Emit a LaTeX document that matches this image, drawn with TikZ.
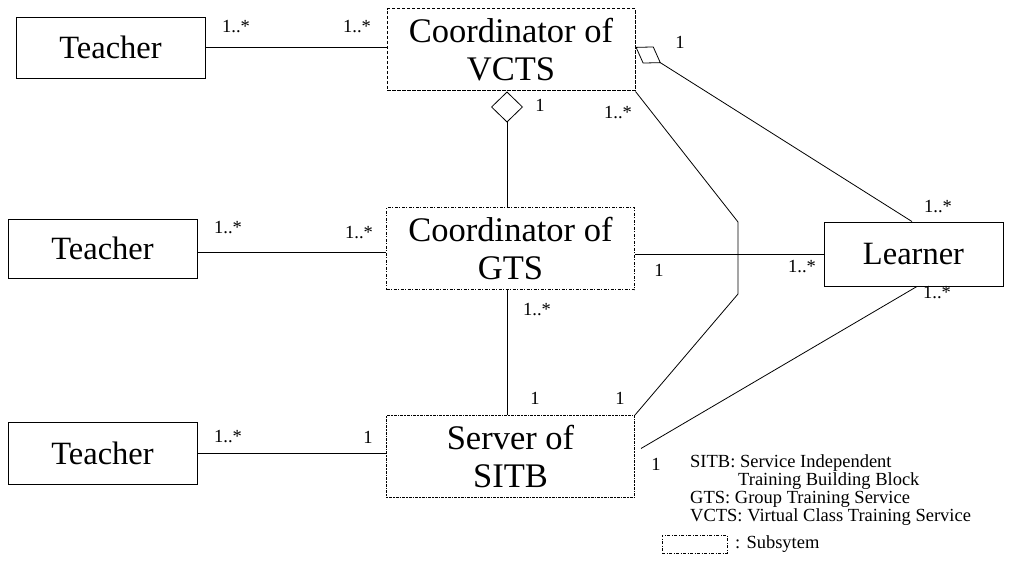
\documentclass[tikz,border=0pt]{standalone}
\usepackage{fontspec}
\setmainfont{Liberation Serif}
\usetikzlibrary{arrows.meta,calc}
\begin{document}
\begin{tikzpicture}[x=1pt,y=-1pt,
  cls/.style={draw,line width=0.9pt,minimum width=189pt,minimum height=61pt,inner sep=0pt,font=\fontsize{32.5}{38}\selectfont},
  sub/.style={draw,line width=1pt,dash pattern=on 3pt off 1.5pt on 1pt off 1.5pt,minimum width=248pt,minimum height=82pt,inner sep=0pt,align=center,font=\fontsize{34.5}{38}\selectfont},
  lbl/.style={font=\fontsize{18.5}{19}\selectfont,inner sep=0pt},
  conn/.style={line width=0.8pt}
]
\useasboundingbox (0,0) rectangle (1010,569);

% classes
\node[cls] (T1) at (110.5,47.5) {Teacher};
\node[cls,minimum height=59pt] (T2) at (102.5,248.5) {Teacher};
\node[cls,minimum height=62pt] (T3) at (102.5,453) {Teacher};
\node[cls,minimum width=179pt,minimum height=64pt] (L) at (913.5,254) {Learner};

% subsystems
\node[sub,dash pattern=on 3.5pt off 1.5pt] (V) at (511,50) {Coordinator of\\VCTS};
\node[sub] (G) at (510.5,249) {Coordinator of\\GTS};
\node[sub,dash pattern=on 1.5pt off 1pt on 3pt off 1pt] (S) at (510.5,456.5) {Server of\\SITB};

% helper coordinates
\coordinate (vx) at (507,0);
\coordinate (lx1) at (912,0);
\coordinate (lx2) at (917,0);
\coordinate (b1) at (738,222);
\coordinate (b2) at (738,294);

% connectors
\draw[conn] (T1.east) -- (T1.east -| V.west);
\draw[conn] ($(T2.east)+(0,3.5)$) -- ($(T2.east -| G.west)+(0,3.5)$);
\draw[conn] (T3.east) -- (T3.east -| S.west);
\draw[conn,-{Diamond[open,length=31pt,width=32pt]}] (G.north -| vx) -- (V.south -| vx);
\draw[conn] (S.north -| vx) -- (G.south -| vx);
\draw[conn,-{Diamond[open,length=30pt,width=20pt]}] (L.north -| lx1) -- ($(V.east)+(0,-3)$);
\draw[conn] (L.west -| G.east) -- (L.west);
\draw[conn] (L.south -| lx2) -- ($(S.east)+(6,-8)$);
\draw[conn] (V.south east) -- (b1) -- (b2) -- (S.north east);

% multiplicities
\node[lbl] (m1) at (236,27) {1..*};
\node[lbl] (m2) at (357,27) {1..*};
\node[lbl] (m3) at (228,228) {1..*};
\node[lbl] (m4) at (359,233) {1..*};
\node[lbl] (m5) at (228,437) {1..*};
\node[lbl] (m6) at (368,437) {1};
\node[lbl] (m7) at (540,105) {1};
\node[lbl] (m8) at (618,113) {1..*};
\node[lbl] (m9) at (680,42) {1};
\node[lbl] (m10) at (938,207) {1..*};
\node[lbl] (m11) at (659,270) {1};
\node[lbl] (m12) at (802,267) {1..*};
\node[lbl] (m13) at (937,293) {1..*};
\node[lbl] (m14) at (537,310) {1..*};
\node[lbl] (m15) at (535,398) {1};
\node[lbl] (m16) at (620,398) {1};
\node[lbl] (m17) at (656,464) {1};

% legend
\node[lbl,anchor=west] (k1) at (690,463) {SITB: Service Independent};
\node[lbl,anchor=west] (k2) at (738,481) {Training Building Block};
\node[lbl,anchor=west] (k3) at (690,499) {GTS: Group Training Service};
\node[lbl,anchor=west] (k4) at (690,517) {VCTS: Virtual Class Training Service};
\node[draw,line width=0.9pt,dash pattern=on 3pt off 1.5pt on 1pt off 1.5pt,minimum width=65pt,minimum height=18pt,inner sep=0pt] (kb) at (694.5,544) {};
\node[lbl,anchor=west] (k5) at (735,544) {: Subsytem};
\end{tikzpicture}
\end{document}
